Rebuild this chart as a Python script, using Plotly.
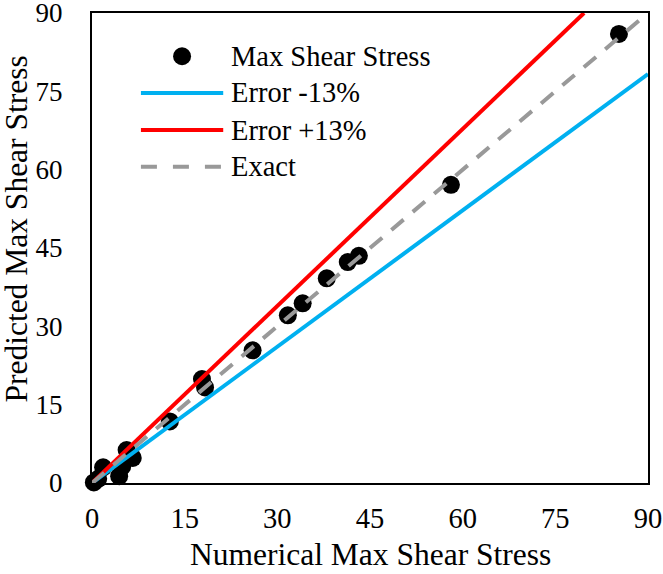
import plotly.graph_objects as go

# Data
numerical = [0.3, 1.0, 1.8, 4.4, 4.9, 5.6, 6.6, 12.6, 17.8, 18.3, 26.0, 31.7, 34.1, 38.0, 41.4, 43.2, 58.1, 85.3]
predicted = [0.1, 0.8, 3.0, 1.3, 3.2, 6.3, 4.8, 11.8, 19.9, 18.3, 25.4, 32.1, 34.4, 39.2, 42.3, 43.5, 57.1, 86.0]

axis_max = 90
err_low = 0.87   # Error -13%
err_high = 1.13  # Error +13%
tick_vals = [0, 15, 30, 45, 60, 75, 90]

FONT = "Liberation Serif"

fig = go.Figure()

fig.add_trace(go.Scatter(
    x=numerical, y=predicted, mode="markers", name="Max Shear Stress",
    marker=dict(color="black", size=18), cliponaxis=False, showlegend=False))

fig.add_trace(go.Scatter(
    x=[0, axis_max], y=[0, axis_max * err_low], mode="lines", name="Error -13%",
    line=dict(color="#00B0F0", width=4), showlegend=False))

fig.add_trace(go.Scatter(
    x=[0, axis_max / err_high], y=[0, axis_max], mode="lines", name="Error +13%",
    line=dict(color="#FF0000", width=4), showlegend=False))

fig.add_trace(go.Scatter(
    x=[0, axis_max], y=[0, axis_max], mode="lines", name="Exact",
    line=dict(color="#999999", width=4, dash="16px,12px"), showlegend=False))

# Manual legend (to match the long legend line samples)
legend_rows = [
    ("Max Shear Stress", "marker", "black", None, 0.908),
    ("Error -13%", "line", "#00B0F0", "solid", 0.830),
    ("Error +13%", "line", "#FF0000", "solid", 0.751),
    ("Exact", "line", "#999999", "dash", 0.673),
]
shapes = []
annotations = []
for label, kind, color, dash, yp in legend_rows:
    if kind == "marker":
        shapes.append(dict(type="circle", xref="paper", yref="paper",
                           xsizemode="pixel", ysizemode="pixel",
                           xanchor=0.162, yanchor=yp,
                           x0=-9, x1=9, y0=-9, y1=9,
                           fillcolor=color, line=dict(width=0)))
    else:
        shapes.append(dict(type="line", xref="paper", yref="paper",
                           x0=0.088, x1=0.236, y0=yp, y1=yp,
                           line=dict(color=color, width=4,
                                     dash="16px,16px" if dash == "dash" else "solid")))
    annotations.append(dict(text=label, xref="paper", yref="paper",
                            x=0.246, y=yp, xanchor="left", yanchor="middle",
                            showarrow=False, font=dict(family=FONT, size=28.5, color="black")))

# Axis titles
annotations.append(dict(text="Predicted Max Shear Stress", xref="paper", yref="paper",
                        x=-0.136, y=0.54, xanchor="center", yanchor="middle", textangle=-90,
                        showarrow=False, font=dict(family=FONT, size=31.5, color="black")))
annotations.append(dict(text="Numerical Max Shear Stress", xref="paper", yref="paper",
                        x=0.5, y=-0.153, xanchor="center", yanchor="middle",
                        showarrow=False, font=dict(family=FONT, size=31.5, color="black")))

fig.update_layout(
    width=663, height=574,
    margin=dict(l=92, r=15, t=13, b=91),
    plot_bgcolor="white", paper_bgcolor="white",
    font=dict(family=FONT, color="black"),
    shapes=shapes, annotations=annotations,
    xaxis=dict(range=[0, axis_max], tickvals=tick_vals, showgrid=False, zeroline=False,
               showline=True, linecolor="black", linewidth=2, mirror=True, automargin=False,
               ticks="", ticklabelstandoff=9, ticklabeloverflow="allow",
               tickfont=dict(family=FONT, size=28.5, color="black")),
    yaxis=dict(range=[0, axis_max + 0.0001], tickvals=tick_vals, showgrid=False, zeroline=False,
               showline=True, linecolor="black", linewidth=2, mirror=True, automargin=False,
               ticks="", ticklabelstandoff=22, ticklabeloverflow="allow",
               tickfont=dict(family=FONT, size=27, color="black")),
)

fig.write_html("out.html")
